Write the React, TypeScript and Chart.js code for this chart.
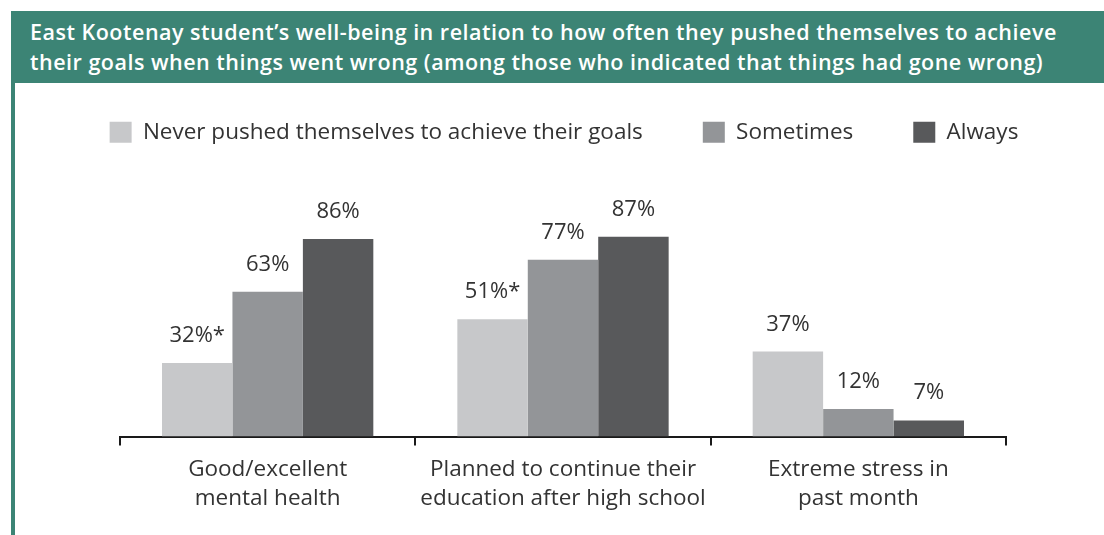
import React, { useEffect, useRef } from "react";
import { Chart, registerables } from "chart.js";

Chart.register(...registerables);

const categories: string[][] = [
  ["Good/excellent", "mental health"],
  ["Planned to continue their", "education after high school"],
  ["Extreme stress in", "past month"],
];
const seriesNames: string[] = [
  "Never pushed themselves to achieve their goals",
  "Sometimes",
  "Always",
];
const neverValues: number[] = [32, 51, 37];
const sometimesValues: number[] = [63, 77, 12];
const alwaysValues: number[] = [86, 87, 7];
const neverLabels: string[] = ["32%*", "51%*", "37%"];
const sometimesLabels: string[] = ["63%", "77%", "12%"];
const alwaysLabels: string[] = ["86%", "87%", "7%"];
const titleLines: string[] = [
  "East Kootenay student\u2019s well-being in relation to how often they pushed themselves to achieve",
  "their goals when things went wrong (among those who indicated that things had gone wrong)",
];

const GREEN = "#3C8475";
const FONT = "'Open Sans', 'Noto Sans', sans-serif";

export default function App() {
  const canvasRef = useRef<HTMLCanvasElement | null>(null);

  useEffect(() => {
    const canvas = canvasRef.current;
    if (!canvas) return;
    const labelSets = [neverLabels, sometimesLabels, alwaysLabels];

    const valueLabelPlugin = {
      id: "valueLabels",
      afterDatasetsDraw(chart: any) {
        const ctx = chart.ctx;
        ctx.save();
        ctx.font = `22px ${FONT}`;
        ctx.fillStyle = "#333333";
        ctx.textAlign = "center";
        ctx.textBaseline = "alphabetic";
        chart.data.datasets.forEach((ds: any, di: number) => {
          const meta = chart.getDatasetMeta(di);
          meta.data.forEach((el: any, i: number) => {
            ctx.fillText(labelSets[di][i], el.x, el.y - 21);
          });
        });
        ctx.restore();
      },
    };

    const legendHeightPlugin = {
      id: "legendHeight",
      beforeInit(chart: any) {
        const legend = chart.legend;
        if (!legend) return;
        const origFit = legend.fit;
        legend.fit = function () {
          origFit.call(this);
          this.height = 206.8 - 61;
        };
      },
    };

    const chart = new Chart(canvas, {
      type: "bar",
      data: {
        labels: categories,
        datasets: [
          { label: seriesNames[0], data: neverValues, backgroundColor: "#C7C8CA" },
          { label: seriesNames[1], data: sometimesValues, backgroundColor: "#939598" },
          { label: seriesNames[2], data: alwaysValues, backgroundColor: "#58595B" },
        ],
      },
      options: {
        responsive: false,
        animation: false,
        events: [],
        datasets: {
          bar: { categoryPercentage: 0.7155, barPercentage: 1.0, borderWidth: 0 },
        },
        layout: { padding: { left: 24, right: 0, top: 61, bottom: 0 } },
        plugins: {
          title: { display: false },
          tooltip: { enabled: false },
          legend: {
            display: true,
            position: "top",
            labels: {
              boxWidth: 22,
              boxHeight: 21,
              padding: 60,
              color: "#333333",
              font: { family: FONT, size: 22.5 },
            },
          },
        },
        scales: {
          x: {
            offset: true,
            grid: {
              display: true,
              offset: true,
              drawOnChartArea: false,
              drawTicks: true,
              tickLength: 9,
              color: "#1a1a1a",
              lineWidth: 2,
            },
            border: { display: true, color: "#1a1a1a", width: 2 },
            ticks: {
              color: "#333333",
              padding: 10,
              maxRotation: 0,
              autoSkip: false,
              font: { family: FONT, size: 22.5, lineHeight: 1.28 },
            },
            afterFit(scale: any) {
              scale.height = 98.5;
            },
          },
          y: {
            display: true,
            position: "left",
            min: 0,
            max: 100,
            grid: { display: false },
            border: { display: false },
            ticks: { display: false },
            afterFit(scale: any) {
              scale.width = 96;
            },
          },
          yRight: {
            type: "linear",
            display: true,
            position: "right",
            min: 0,
            max: 100,
            grid: { display: false },
            border: { display: false },
            ticks: { display: false },
            afterFit(scale: any) {
              scale.width = 98;
            },
          },
        },
      },
      plugins: [legendHeightPlugin, valueLabelPlugin],
    });
    return () => chart.destroy();
  }, []);

  return (
    <div style={{ position: "fixed", left: 0, top: 0, width: 1104, height: 535, background: "#fff", overflow: "hidden" }}>
      <canvas ref={canvasRef} width={1104} height={535} style={{ position: "absolute", left: 0, top: 0, width: 1104, height: 535 }} />
      <div style={{ position: "absolute", left: 11, top: 11, width: 1093, height: 72, background: GREEN }} />
      <div style={{ position: "absolute", left: 11, top: 83, width: 4, height: 452, background: GREEN }} />
      <div
        style={{
          position: "absolute",
          left: 30,
          top: 17,
          color: "#ffffff",
          fontFamily: FONT,
          fontWeight: 600,
          fontSize: 21.5,
          letterSpacing: "0.5px",
          lineHeight: "30px",
          whiteSpace: "pre",
        }}
      >
        {titleLines.map((t, i) => (
          <div key={i}>{t}</div>
        ))}
      </div>
    </div>
  );
}
